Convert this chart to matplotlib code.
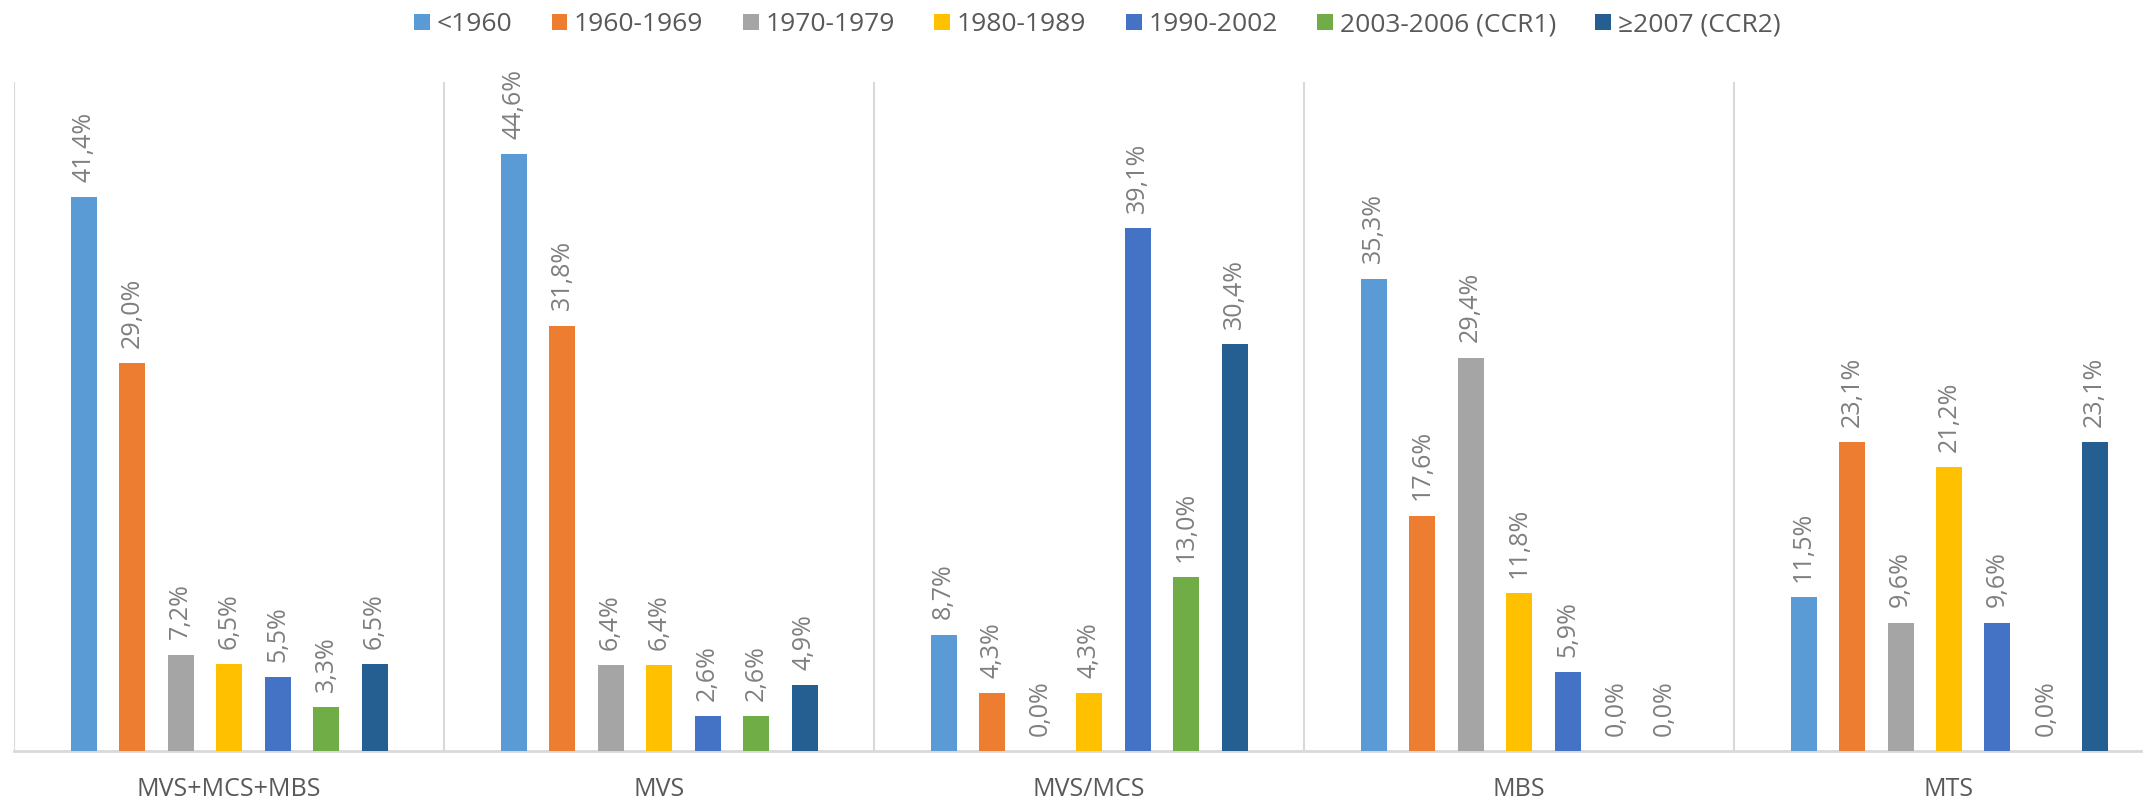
import numpy as np
import matplotlib
matplotlib.use("Agg")
import matplotlib.pyplot as plt

groups = ["MVS+MCS+MBS", "MVS", "MVS/MCS", "MBS", "MTS"]
series = ["<1960", "1960-1969", "1970-1979", "1980-1989", "1990-2002",
          "2003-2006 (CCR1)", "≥2007 (CCR2)"]
colors = ["#5B9BD5", "#ED7D31", "#A5A5A5", "#FFC000", "#4472C4", "#70AD47", "#255E91"]

# one list per construction period, values per group (%)
pre_1960 = [41.4, 44.6, 8.7, 35.3, 11.5]
y1960_69 = [29.0, 31.8, 4.3, 17.6, 23.1]
y1970_79 = [7.2, 6.4, 0.0, 29.4, 9.6]
y1980_89 = [6.5, 6.4, 4.3, 11.8, 21.2]
y1990_02 = [5.5, 2.6, 39.1, 5.9, 9.6]
y2003_06 = [3.3, 2.6, 13.0, 0.0, 0.0]
from_2007 = [6.5, 4.9, 30.4, 0.0, 23.1]
values = [pre_1960, y1960_69, y1970_79, y1980_89, y1990_02, y2003_06, from_2007]

plt.rcParams["font.family"] = ["Open Sans", "DejaVu Sans"]

fig = plt.figure(figsize=(21.43, 8.02), dpi=100)
ax = fig.add_axes([14 / 2143, 51 / 802, 2150 / 2143, 669 / 802])

x = np.arange(len(groups))
step = 48.5 / 430
width = 26 / 430

for j, (name, vals, col) in enumerate(zip(series, values, colors)):
    pos = x + (j - 3) * step
    ax.bar(pos, vals, width=width, color=col, label=name, zorder=3)
    for px, v in zip(pos, vals):
        ax.annotate(f"{v:.1f}%".replace(".", ","), (px, v), xytext=(0, 11),
                    textcoords="offset points", rotation=90, ha="center",
                    va="bottom", fontsize=18, color="#7F7F7F")

# group separators
for b in np.arange(-0.5, len(groups), 1.0):
    ax.axvline(b, color="#D9D9D9", lw=1.5, zorder=1)

ax.set_xlim(-0.5, len(groups) - 0.5)
ax.set_ylim(0, 50)
ax.set_xticks(x)
ax.set_xticklabels(groups, fontsize=18, color="#595959")
ax.tick_params(axis="x", length=0, pad=19)
ax.set_yticks([])
for s in ["top", "right", "left"]:
    ax.spines[s].set_visible(False)
ax.spines["bottom"].set_color("#D9D9D9")
ax.spines["bottom"].set_linewidth(2)

fig.legend(loc="center", bbox_to_anchor=(0.512, 0.969), ncol=7, frameon=False,
           fontsize=19, labelcolor="#595959", handlelength=0.6, handleheight=0.6,
           handletextpad=0.25, columnspacing=1.5)

fig.savefig("out.png", dpi=100)
